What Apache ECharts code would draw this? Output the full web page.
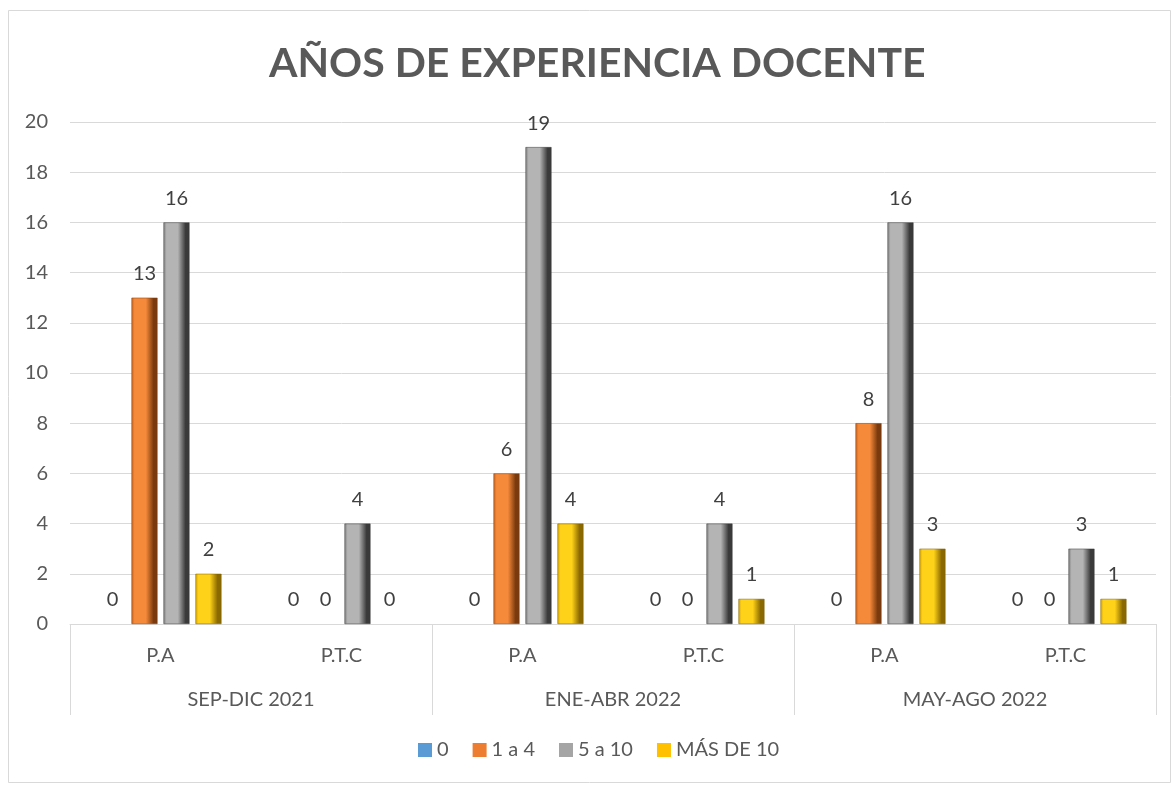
<!DOCTYPE html>
<html><head><meta charset="utf-8">
<script src="https://cdn.jsdelivr.net/npm/echarts@6/dist/echarts.min.js"></script>
<style>html,body{margin:0;padding:0;background:#fff}#c{width:1172px;height:785px}</style>
</head><body><div id="c"></div>
<script>
const titleText = 'AÑOS DE EXPERIENCIA DOCENTE';
const subCategories = ['P.A', 'P.T.C', 'P.A', 'P.T.C', 'P.A', 'P.T.C'];
const periods = ['SEP-DIC 2021', 'ENE-ABR 2022', 'MAY-AGO 2022'];
const seriesNames = ['0', '1 a 4', '5 a 10', 'MÁS DE 10'];
const valuesZero = [0, 0, 0, 0, 0, 0];
const values1a4 = [13, 0, 6, 0, 8, 0];
const values5a10 = [16, 4, 19, 4, 16, 3];
const valuesMas10 = [2, 0, 4, 1, 3, 1];
const yTicks = [0, 2, 4, 6, 8, 10, 12, 14, 16, 18, 20];

const FONT = 'Lato, "Open Sans", sans-serif';
function grad(l, c, r) {
  return new echarts.graphic.LinearGradient(0, 0, 1, 0, [
    {offset: 0, color: l}, {offset: 0.12, color: c}, {offset: 0.55, color: c},
    {offset: 0.85, color: r}, {offset: 1, color: r}
  ]);
}
const styles = [
  {color: '#5B9BD5', border: '#41719C'},
  {color: grad('#C8621F', '#F58A3A', '#7A3A0E'), border: '#7A3A0E', legend: '#ED7D31'},
  {color: grad('#7E7E7E', '#B4B4B4', '#3A3A3A'), border: '#3A3A3A', legend: '#A5A5A5'},
  {color: grad('#D9A600', '#FFD21A', '#8A6A00'), border: '#7A5D00', legend: '#FFC000'}
];
const dataSets = [valuesZero, values1a4, values5a10, valuesMas10];

const chart = echarts.init(document.getElementById('c'));
chart.setOption({
  animation: false,
  backgroundColor: '#fff',
  title: {text: titleText, left: 264, top: 38,
    textStyle: {fontFamily: FONT, fontSize: 41, fontWeight: 'bold', color: '#595959'}},
  graphic: [{type: 'rect', shape: {x: 8.5, y: 10.5, width: 1162, height: 772},
    style: {fill: 'none', stroke: '#d9d9d9', lineWidth: 1}, silent: true}],
  legend: {bottom: 20, left: 413, itemWidth: 14, itemHeight: 14, itemGap: 24, icon: 'rect',
    textStyle: {fontFamily: FONT, fontSize: 20, color: '#595959'},
    data: seriesNames.map((n, i) => ({name: n, itemStyle: {color: styles[i].legend || styles[i].color, borderWidth: 0}}))},
  grid: {left: 70, right: 16, top: 122, bottom: 161},
  xAxis: [
    {type: 'category', data: subCategories, position: 'bottom',
      axisLine: {show: true, lineStyle: {color: '#d9d9d9'}}, axisTick: {show: false},
      axisLabel: {fontFamily: FONT, fontSize: 20, color: '#595959', margin: 22}},
    {type: 'category', data: periods, position: 'bottom', boundaryGap: true,
      axisLine: {show: false}, axisTick: {show: true, length: 91, alignWithLabel: false, lineStyle: {color: '#d9d9d9'}},
      axisLabel: {fontFamily: FONT, fontSize: 20, color: '#595959', margin: 66}}
  ],
  yAxis: {type: 'value', min: 0, max: 20, interval: 2,
    axisLine: {show: false}, axisTick: {show: false},
    axisLabel: {fontFamily: FONT, fontSize: 20, color: '#595959', margin: 22,
      formatter: v => yTicks.includes(v) ? String(v) : ''},
    splitLine: {lineStyle: {color: '#d9d9d9', width: 1}}},
  series: dataSets.map((d, i) => ({
    name: seriesNames[i], type: 'bar', xAxisIndex: 0,
    data: d.map(v => v === 0 ? {value: v, itemStyle: {borderWidth: 0, opacity: 0}} : v),
    barWidth: 26, barGap: '23%', barCategoryGap: '33%',
    itemStyle: {color: styles[i].color, borderColor: styles[i].border, borderWidth: 0.5},
    label: {show: true, position: 'top', distance: 14, fontFamily: FONT, fontSize: 20, color: '#404040', opacity: 1}
  }))
});
</script></body></html>
